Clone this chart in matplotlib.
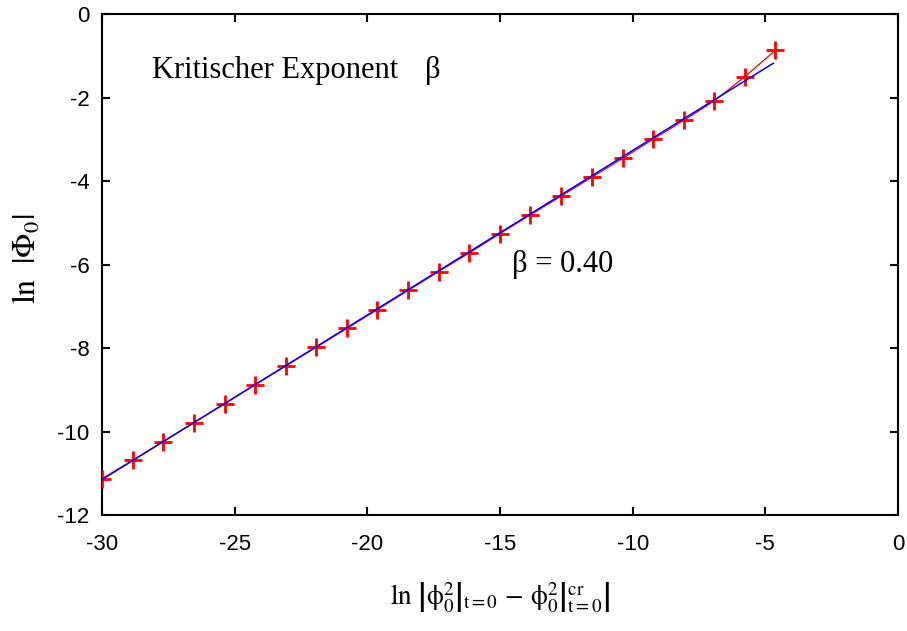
import matplotlib
matplotlib.use("Agg")
import matplotlib.pyplot as plt

plt.rcParams['mathtext.fontset'] = 'stix'
plt.rcParams['axes.unicode_minus'] = False
plt.rcParams['font.family'] = ['Liberation Sans', 'DejaVu Sans']

# measured points ln|phi0^2 - phi0^2_cr| vs ln|Phi0|
ln_dphi = [-30.0, -28.85, -27.69, -26.54, -25.38, -24.23, -23.08, -21.92,
           -20.77, -19.62, -18.46, -17.31, -16.15, -15.0, -13.85, -12.69,
           -11.54, -10.38, -9.23, -8.08, -6.92, -5.77, -4.62]
ln_Phi = [-11.13, -10.69, -10.24, -9.79, -9.34, -8.88, -8.43, -7.98,
          -7.53, -7.08, -6.62, -6.17, -5.72, -5.26, -4.81, -4.36,
          -3.91, -3.46, -3.00, -2.55, -2.08, -1.50, -0.87]

# linear fit, slope beta
fit_x = [-30.0, -4.7]
fit_y = [-11.15, -1.18]
beta = 0.40

fig = plt.figure(figsize=(9.07, 6.31), dpi=100)
ax = fig.add_axes([0.1125, 0.1838, 0.8775, 0.794])

ax.plot(ln_dphi, ln_Phi, '-', color='#ff0000', lw=0.9, zorder=2)
ax.plot(ln_dphi, ln_Phi, '+', color='#ff0000', ms=13, mew=2.0, zorder=3)
ax.plot(fit_x, fit_y, '-', color='#0000ff', lw=1.1, zorder=4)

ax.set_xlim(-30, 0)
ax.set_ylim(-12, 0)
ax.set_xticks(range(-30, 1, 5))
ax.set_yticks(range(-12, 1, 2))
ax.tick_params(direction='in', length=6, width=1.5, labelsize=16,
               top=True, right=True)
ax.tick_params(axis='x', pad=14)
ax.tick_params(axis='y', pad=9)
for s in ax.spines.values():
    s.set_linewidth(1.5)

serif = ['Liberation Serif', 'DejaVu Serif']
ax.text(-28.1, -1.53, 'Kritischer Exponent', fontsize=22, family=serif)
ax.text(-17.83, -1.53, 'β', fontsize=22, family=serif)
ax.text(-14.55, -6.18, 'β = %.2f' % beta, fontsize=22, family=serif)

fig.text(0.03, 0.59, r'$\mathrm{ln}\ \ |\Phi_0|$', fontsize=23,
         rotation=90, ha='center', va='center')
fig.text(0.551, 0.052,
         r'$\mathrm{ln}\ \left|\left.\mathrm{\phi}_0^2\right|_{\mathrm{t=0}}\,-\,\left.\mathrm{\phi}_0^2\right|^{\mathrm{cr}}_{\mathrm{t=0}}\right|$',
         fontsize=19.5, ha='center', va='center')

fig.savefig('out.png', dpi=100)
